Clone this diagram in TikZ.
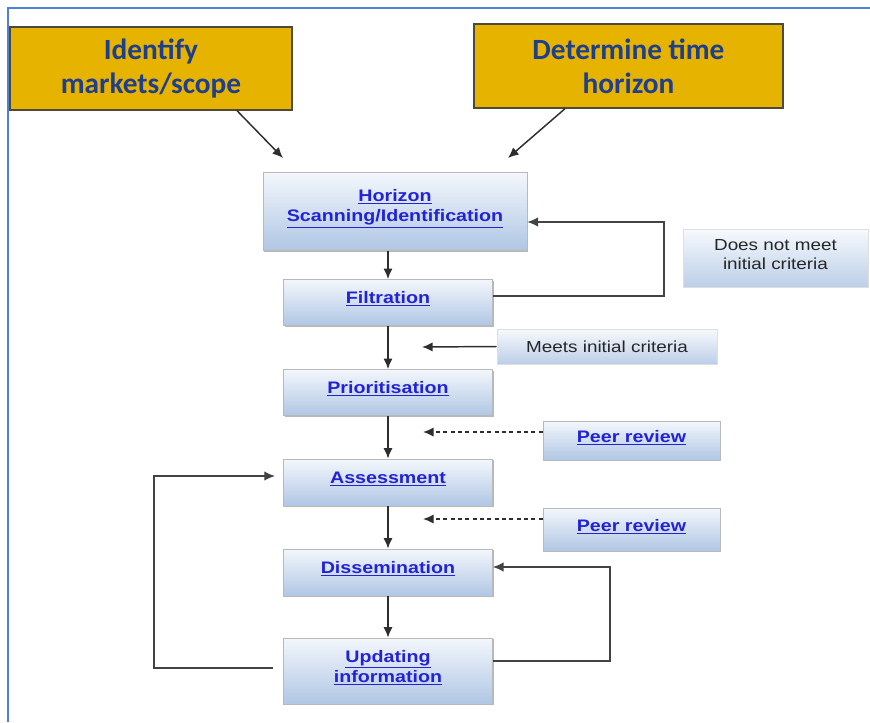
\documentclass[tikz,border=0pt]{standalone}
\usepackage{fontspec}
\setmainfont{Liberation Sans}[FakeStretch=1.18]
\newfontfamily\calfont{Carlito}
\usetikzlibrary{arrows.meta,shadows,calc}

\definecolor{frameblue}{HTML}{4F81D9}
\definecolor{gold}{HTML}{E6B300}
\definecolor{goldedge}{HTML}{4E4A3A}
\definecolor{headblue}{HTML}{1F3F8C}
\definecolor{linkblue}{HTML}{2323D6}
\definecolor{boxtop}{HTML}{F3F7FC}
\definecolor{boxbot}{HTML}{B0C6E4}
\definecolor{greytxt}{HTML}{262626}
\definecolor{wire}{HTML}{2E2E2E}

\newcommand{\lnk}[1]{\underline{#1}}
% centred block of lines, lifted slightly above the box centre
\newcommand{\stg}[2][2.5pt]{\raisebox{#1}[\height][\depth]{\begin{tabular}{@{}c@{}}#2\end{tabular}}}

\tikzset{
  goldbox/.style={rectangle, draw=goldedge, line width=1pt, fill=gold,
    text=headblue, align=center,
    font=\calfont\bfseries\fontsize{22}{25.5}\selectfont},
  stagebox/.style={rectangle, draw=gray!55, line width=0.5pt,
    top color=boxtop, bottom color=boxbot,
    drop shadow={shadow xshift=0.8pt, shadow yshift=-1pt, fill=gray!70, opacity=0.8},
    text=linkblue,
    font=\bfseries\fontsize{12.5}{15}\selectfont},
  notebox/.style={rectangle, draw=gray!25, line width=0.4pt,
    top color=boxtop!70!white, bottom color=boxbot!85!white,
    text=greytxt,
    font=\fontsize{12}{14.5}\selectfont},
  arr/.style={draw=wire, line width=1.35pt, -{Latex[length=8pt,width=7pt]}},
  dasharr/.style={draw=wire, line width=1.1pt, dash pattern=on 3pt off 2.5pt,
    -{Latex[length=8pt,width=7pt]}},
  loop/.style={draw=wire!90, line width=0.9pt},
  looparr/.style={loop, -{Latex[length=8pt,width=7pt]}},
}

\begin{document}
\begin{tikzpicture}[x=0.75pt, y=-0.75pt]
\useasboundingbox (0,0) rectangle (870,722);

% outer frame (top and left edges)
\draw[frameblue, line width=0.9pt] (8,722) -- (8,8) -- (870,8);

% scope inputs
\node[goldbox, minimum width=211.5pt, minimum height=62.25pt] (idm) at (151,68.5)
  {Identify\\markets/scope};
\node[goldbox, minimum width=231.75pt, minimum height=63pt] (dth) at (628.5,66)
  {Determine time\\horizon};

% process stages
\node[stagebox, minimum width=198pt, minimum height=58.5pt] (hsi) at (395,211.5)
  {\stg[3pt]{\lnk{Horizon}\\\lnk{Scanning/Identification}}};
\node[stagebox, minimum width=156.75pt, minimum height=34.5pt] (fil) at (388,302.5)
  {\stg{\lnk{Filtration}}};
\node[stagebox, minimum width=156.75pt, minimum height=34.5pt] (pri) at (388,392.5)
  {\stg{\lnk{Prioritisation}}};
\node[stagebox, minimum width=156.75pt, minimum height=35.25pt] (ass) at (388,482.5)
  {\stg{\lnk{Assessment}}};
\node[stagebox, minimum width=156.75pt, minimum height=35.25pt] (dis) at (388,572.5)
  {\stg{\lnk{Dissemination}}};
\node[stagebox, minimum width=156.75pt, minimum height=49.5pt] (upd) at (388,671)
  {\stg[2pt]{\lnk{Updating}\\\lnk{information}}};

% side notes
\node[notebox, minimum width=138.75pt, minimum height=43.5pt] (dnm) at (775.5,258)
  {\stg[1.5pt]{Does not meet\\initial criteria}};
\node[notebox, minimum width=165pt, minimum height=26.25pt] (mic) at (607,346.5)
  {Meets initial criteria};
\node[stagebox, minimum width=132.75pt, minimum height=29.25pt] (pr1) at (631.5,440.5)
  {\stg[1.5pt]{\lnk{Peer review}}};
\node[stagebox, minimum width=132.75pt, minimum height=32.25pt] (pr2) at (631.5,529.5)
  {\stg[1.5pt]{\lnk{Peer review}}};

% connector end points
\coordinate (idmEnd) at (283,158);
\coordinate (dthEnd) at (508,158);
\coordinate (micEnd) at (422,347);
\coordinate (pr1End) at (423,432);
\coordinate (pr2End) at (423,519);
\coordinate (rejR)   at (664,296);
\coordinate (rejT)   at (664,222);
\coordinate (updL0)  at (273,668);
\coordinate (updL1)  at (154,668);
\coordinate (updL2)  at (154,476);
\coordinate (assIn)  at (275,476);
\coordinate (updR1)  at (610,661);
\coordinate (updR2)  at (610,567);

% inputs into scanning
\draw[arr, line width=1.1pt] (idm.south -| 237,0) -- (idmEnd);
\draw[arr, line width=1.1pt] (dth.south -| 565,0) -- (dthEnd);

% main flow
\draw[arr] (fil.north |- hsi.south) -- (fil.north);
\draw[arr] (fil.south) -- (pri.north);
\draw[arr] (pri.south) -- (ass.north);
\draw[arr] (ass.south) -- (dis.north);
\draw[arr] (dis.south) -- (upd.north);

% rejected items go back to scanning
\draw[looparr] (fil.east |- rejR) -- (rejR) -- (rejT) -- (hsi.east |- rejT);

% criteria and reviews feeding the flow
\draw[arr, line width=1.1pt] (mic.west) -- (micEnd);
\draw[dasharr] (pr1.west |- pr1End) -- (pr1End);
\draw[dasharr] (pr2.west |- pr2End) -- (pr2End);

% update feedback loops
\draw[looparr] (updL0) -- (updL1) -- (updL2) -- (assIn);
\draw[looparr] (upd.east |- updR1) -- (updR1) -- (updR2) -- (dis.east |- updR2);
\end{tikzpicture}
\end{document}
